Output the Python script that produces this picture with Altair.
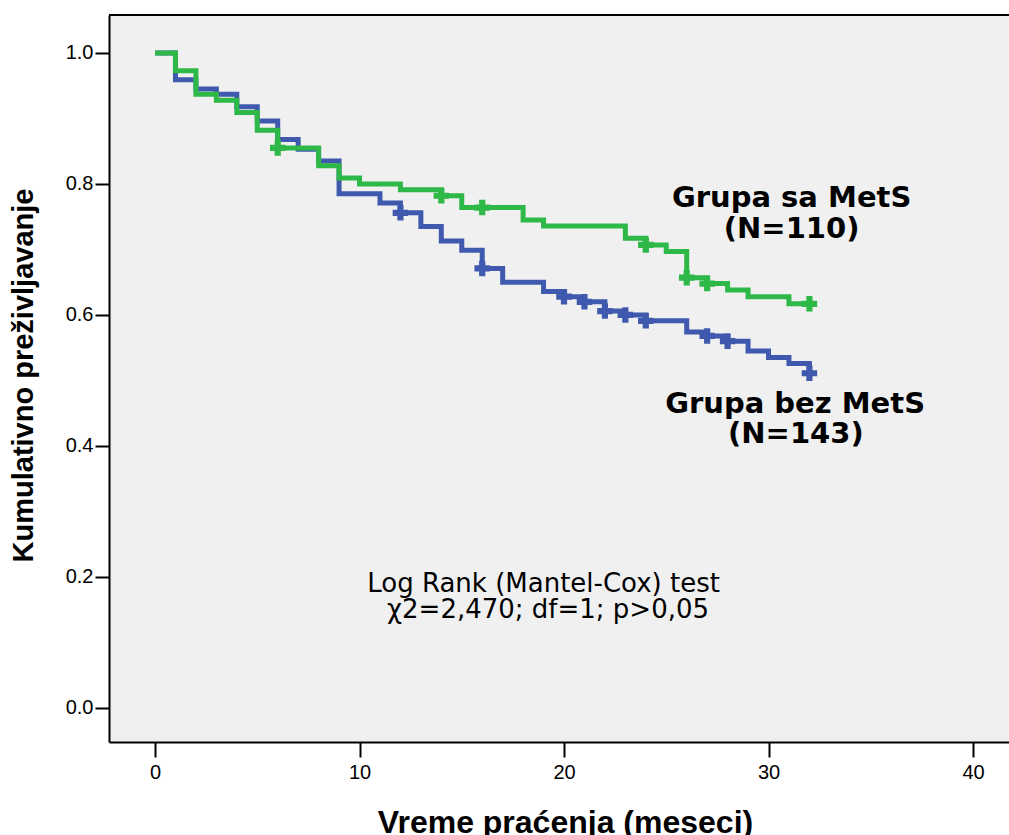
import altair as alt
import pandas as pd

# Kaplan-Meier estimates (time in months, cumulative survival)
mets_t = [0, 1, 2, 3, 4, 5, 6, 8, 9, 10, 12, 14, 15, 18, 19, 23, 24, 25, 26, 27, 28, 29, 31, 32]
mets_s = [1.0, 0.973, 0.937, 0.928, 0.909, 0.882, 0.855, 0.828, 0.809, 0.800, 0.791, 0.782,
          0.764, 0.745, 0.736, 0.717, 0.707, 0.697, 0.657, 0.648, 0.638, 0.628, 0.617, 0.617]
mets_cens = [6, 14, 16, 24, 26, 27, 32]

nomets_t = [0, 1, 2, 3, 4, 5, 6, 7, 8, 9, 11, 12, 13, 14, 15, 16, 17, 19, 20, 21, 22, 23, 24,
            26, 27, 28, 29, 30, 31, 32]
nomets_s = [1.0, 0.959, 0.945, 0.937, 0.918, 0.896, 0.868, 0.853, 0.835, 0.785, 0.771, 0.756,
            0.735, 0.713, 0.699, 0.671, 0.650, 0.636, 0.628, 0.620, 0.606, 0.600, 0.591,
            0.574, 0.568, 0.560, 0.545, 0.535, 0.526, 0.511]
nomets_cens = [12, 16, 20, 21, 22, 23, 24, 27, 28, 32]

x_ticks = [0, 10, 20, 30, 40]
y_ticks = [0.0, 0.2, 0.4, 0.6, 0.8, 1.0]

labels_text = ["Grupa sa MetS", "(N=110)", "Grupa bez MetS", "(N=143)"]
labels_x = [31.13, 31.13, 31.30, 31.34]
labels_y = [0.765, 0.717, 0.4496, 0.4046]

test_text = ["Log Rank (Mantel-Cox) test", "\u03c72=2,470; df=1; p>0,05"]
test_x = [19.0, 19.22]
test_y = [0.1776, 0.137]

GREEN = "#2EB848"
BLUE = "#3F59AE"


def surv_at(ts, ss, t):
    val = ss[0]
    for ti, si in zip(ts, ss):
        if ti <= t:
            val = si
    return val


mets_df = pd.DataFrame({"t": mets_t, "s": mets_s})
nomets_df = pd.DataFrame({"t": nomets_t, "s": nomets_s})
mets_c = pd.DataFrame({"t": mets_cens, "s": [surv_at(mets_t, mets_s, c) for c in mets_cens]})
nomets_c = pd.DataFrame({"t": nomets_cens, "s": [surv_at(nomets_t, nomets_s, c) for c in nomets_cens]})
lab_df = pd.DataFrame({"x": labels_x, "y": labels_y, "txt": labels_text})
test_df = pd.DataFrame({"x": test_x, "y": test_y, "txt": test_text})

xscale = alt.Scale(domain=[-2.25, 41.76], nice=False, zero=False)
yscale = alt.Scale(domain=[-0.052, 1.058], nice=False, zero=False)

xaxis = alt.Axis(values=x_ticks, grid=False, tickSize=15, tickWidth=2, tickColor="black",
                 domainColor="black", domainWidth=2, labelFont="Liberation Sans",
                 labelFontSize=20, labelColor="black", labelPadding=5,
                 title="Vreme pra\u0107enja (meseci)", titleFont="Liberation Sans",
                 titleFontSize=32, titleFontWeight="bold", titleColor="black",
                 titleX=456, titleY=90, titleBaseline="alphabetic")
yaxis = alt.Axis(values=y_ticks, format=".1f", grid=False, tickSize=14, tickWidth=2,
                 tickColor="black", domainColor="black", domainWidth=2,
                 labelFont="Liberation Sans", labelFontSize=20, labelColor="black",
                 labelPadding=2, title="Kumulativno pre\u017eivljavanje",
                 titleFont="Liberation Sans", titleFontSize=29, titleFontWeight="bold",
                 titleColor="black", titleX=-77, titleY=360, titleBaseline="alphabetic")

X = alt.X("t:Q", scale=xscale, axis=xaxis)
Y = alt.Y("s:Q", scale=yscale, axis=yaxis)

blue_line = alt.Chart(nomets_df).mark_line(
    interpolate="step-after", color=BLUE, strokeWidth=5, strokeJoin="miter"
).encode(x=X, y=Y)
blue_cens = alt.Chart(nomets_c).mark_point(
    shape="cross", size=240, filled=True, color=BLUE, opacity=1
).encode(x="t:Q", y="s:Q")
green_line = alt.Chart(mets_df).mark_line(
    interpolate="step-after", color=GREEN, strokeWidth=5, strokeJoin="miter"
).encode(x="t:Q", y="s:Q")
green_cens = alt.Chart(mets_c).mark_point(
    shape="cross", size=240, filled=True, color=GREEN, opacity=1
).encode(x="t:Q", y="s:Q")

labels = alt.Chart(lab_df).mark_text(
    font="DejaVu Sans", fontSize=29, fontWeight="bold", color="black",
    align="center", baseline="alphabetic"
).encode(x="x:Q", y="y:Q", text="txt:N")
test_lbl = alt.Chart(test_df).mark_text(
    font="DejaVu Sans", fontSize=26, color="black", align="center", baseline="alphabetic"
).encode(x="x:Q", y="y:Q", text="txt:N")

top_border = alt.Chart(pd.DataFrame({"k": [0]})).mark_rule(
    color="black", strokeWidth=2
).encode(x=alt.value(0), x2=alt.value(900), y=alt.value(0))

chart = alt.layer(
    blue_line, blue_cens, green_line, green_cens, labels, test_lbl, top_border
).properties(
    width=900, height=727,
    autosize=alt.AutoSizeParams(type="none"),
    padding={"left": 109, "top": 15, "right": 0, "bottom": 93},
    background="white",
).configure_view(fill="#F0F0F0", stroke="transparent")

chart.save("out.html", embed_options={"renderer": "svg", "actions": False})
